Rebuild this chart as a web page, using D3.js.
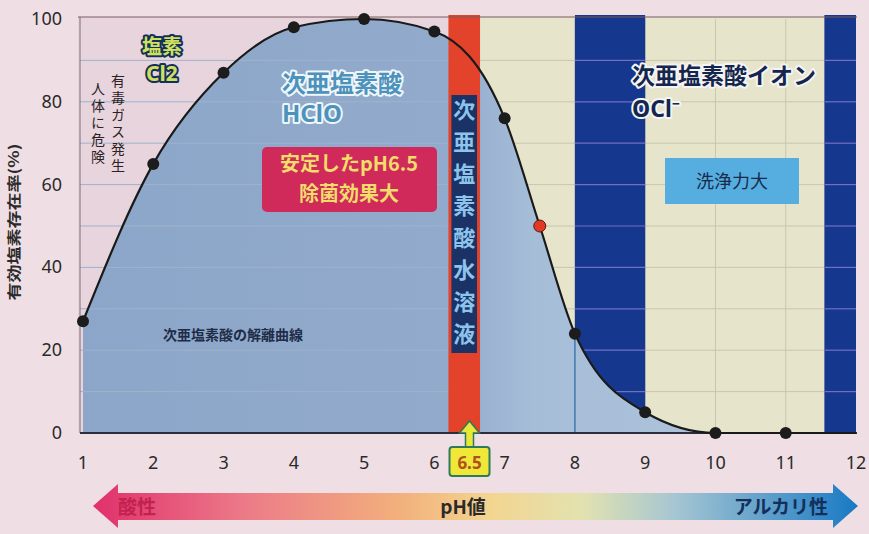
<!DOCTYPE html>
<html>
<head>
<meta charset="utf-8">
<script src="https://cdn.jsdelivr.net/npm/d3@7"></script>
<style>
  body { margin: 0; background: #efdfe5; }
  svg { display: block; font-family: "Noto Sans CJK JP", "Noto Sans", sans-serif; }
</style>
</head>
<body>
<svg id="chart" width="869" height="534"></svg>
<script>
// HClO share (%)
const phValues = [1, 2, 3, 4, 5, 6, 7, 7.5, 8, 9, 10, 11, 12];
const hcloShare = [27, 65, 87, 98, 100, 97, 76, 50, 24, 5, 0, 0, 0];
const markedPh = [1, 2, 3, 4, 5, 6, 7, 7.5, 8, 9, 10, 11];
const xTicks = [1, 2, 3, 4, 5, 6, 7, 8, 9, 10, 11, 12];
const yTicks = [0, 20, 40, 60, 80, 100];
const gridY = [10, 20, 30, 40, 50, 60, 70, 80, 90];
const redBandPh = [6.2, 6.65];
const blueBands = [[8, 9], [11.55, 12]];

const data = phValues.map((p, i) => ({ph: p, v: hcloShare[i]}));

const svg = d3.select("#chart");
const defs = svg.append("defs");

const x = d3.scaleLinear().domain([1, 12]).range([83, 856]);
const y = d3.scaleLinear().domain([0, 100]).range([433, 19]);

// background of the plot: pink (acid side) and cream (alkaline side)
svg.append("rect")
    .attr("x", 78).attr("y", y(100) - 2)
    .attr("width", x(redBandPh[0]) - 78).attr("height", y(0) - y(100) + 2)
    .attr("fill", "#e8d4dc");
svg.append("rect")
    .attr("x", x(redBandPh[1])).attr("y", y(100) - 2)
    .attr("width", x(12) - x(redBandPh[1])).attr("height", y(0) - y(100) + 2)
    .attr("fill", "#e6e5cc");

// grid in the cream part
const grid = svg.append("g").attr("stroke", "#c9c6ad").attr("stroke-width", 1);
gridY.forEach(g => {
    grid.append("line")
        .attr("x1", x(redBandPh[1])).attr("x2", x(12))
        .attr("y1", y(g)).attr("y2", y(g));
});
xTicks.filter(t => t > 7 && t < 12).forEach(t => {
    grid.append("line")
        .attr("x1", x(t)).attr("x2", x(t))
        .attr("y1", y(100)).attr("y2", y(0));
});

// dark blue bands (OCl- zone)
blueBands.forEach(b => {
    svg.append("rect")
        .attr("x", x(b[0])).attr("y", y(100) - 4)
        .attr("width", x(b[1]) - x(b[0])).attr("height", y(0) - y(100) + 4)
        .attr("fill", "#16378e");
    gridY.forEach(g => {
        svg.append("line")
            .attr("x1", x(b[0])).attr("x2", x(b[1]))
            .attr("y1", y(g)).attr("y2", y(g))
            .attr("stroke", "#6f6fc4").attr("stroke-width", 1.2);
    });
});

// area under the curve
const grad = defs.append("linearGradient").attr("id", "areaFill")
    .attr("gradientUnits", "userSpaceOnUse")
    .attr("x1", x(1)).attr("x2", x(12)).attr("y1", 0).attr("y2", 0);
grad.append("stop").attr("offset", "0%").attr("stop-color", "#8ca6c9");
grad.append("stop").attr("offset", "47%").attr("stop-color", "#92abcc");
grad.append("stop").attr("offset", "58%").attr("stop-color", "#a6bdd8");
grad.append("stop").attr("offset", "100%").attr("stop-color", "#b3c6dc");

const area = d3.area()
    .x(d => x(d.ph)).y0(y(0)).y1(d => y(d.v))
    .curve(d3.curveMonotoneX);
svg.append("path").datum(data)
    .attr("d", area)
    .attr("fill", "url(#areaFill)");

// faint grid over the blue part
gridY.forEach(g => {
    svg.append("line")
        .attr("x1", 80).attr("x2", x(redBandPh[0]))
        .attr("y1", y(g)).attr("y2", y(g))
        .attr("stroke", "#9fb2cc").attr("stroke-width", 1);
});
svg.append("line")
    .attr("x1", x(8)).attr("x2", x(8))
    .attr("y1", y(24)).attr("y2", y(0))
    .attr("stroke", "#3f78b0").attr("stroke-width", 1.5);

// red band
svg.append("rect")
    .attr("x", x(redBandPh[0])).attr("y", y(100) - 4)
    .attr("width", x(redBandPh[1]) - x(redBandPh[0])).attr("height", y(0) - y(100) + 4)
    .attr("fill", "#e2432a");

// frame
svg.append("line").attr("x1", 78).attr("x2", 857).attr("y1", y(100) - 2).attr("y2", y(100) - 2)
    .attr("stroke", "#7a5a60").attr("stroke-width", 1);
svg.append("line").attr("x1", 80).attr("x2", 80).attr("y1", y(100) - 2).attr("y2", y(0))
    .attr("stroke", "#7a6a78").attr("stroke-width", 1);
svg.append("line").attr("x1", 80).attr("x2", 857).attr("y1", y(0)).attr("y2", y(0))
    .attr("stroke", "#2c2c3c").attr("stroke-width", 2);

// curve and markers
const line = d3.line().x(d => x(d.ph)).y(d => y(d.v)).curve(d3.curveMonotoneX);
svg.append("path").datum(data)
    .attr("d", line)
    .attr("fill", "none").attr("stroke", "#1a1a1a").attr("stroke-width", 2.2);

svg.append("g").selectAll("circle")
    .data(data.filter(d => markedPh.includes(d.ph)))
    .join("circle")
    .attr("cx", d => x(d.ph)).attr("cy", d => y(d.v))
    .attr("r", 6)
    .attr("fill", d => d.ph === 7.5 ? "#e03a25" : "#1c1c1c")
    .attr("stroke", d => d.ph === 7.5 ? "#5a1a10" : "none");

// axes labels
svg.append("g").selectAll("text")
    .data(yTicks).join("text")
    .attr("x", 62).attr("y", d => y(d) + 6)
    .attr("text-anchor", "end")
    .attr("font-size", 18).attr("fill", "#2a2a2a")
    .attr("font-family", "Noto Sans")
    .text(d => d);

svg.append("g").selectAll("text")
    .data(xTicks).join("text")
    .attr("x", d => x(d)).attr("y", 469)
    .attr("text-anchor", "middle")
    .attr("font-size", 18).attr("fill", "#2a2a2a")
    .attr("font-family", "Noto Sans")
    .text(d => d);

svg.append("text")
    .attr("transform", "translate(19,222) rotate(-90)")
    .attr("text-anchor", "middle")
    .attr("font-size", 14).attr("font-weight", "bold").attr("fill", "#2a2a2a")
    .attr("textLength", 157).attr("lengthAdjust", "spacingAndGlyphs")
    .text("有効塩素存在率(%)");

// 6.5 marker
const mk = svg.append("g").attr("transform", `translate(${x(6.5)},0)`);
mk.append("path")
    .attr("d", "M0,421 L10,433 L4,433 L4,447 L-4,447 L-4,433 L-10,433 Z")
    .attr("fill", "#e8e83a").attr("stroke", "#2e7a5a").attr("stroke-width", 1.5);
mk.append("rect")
    .attr("x", -20).attr("y", 447).attr("width", 40).attr("height", 29).attr("rx", 3)
    .attr("fill", "#f0e838").attr("stroke", "#2e7a5a").attr("stroke-width", 2);
mk.append("text")
    .attr("y", 469).attr("text-anchor", "middle")
    .attr("font-size", 17).attr("font-weight", "bold").attr("fill", "#b0521c")
    .attr("font-family", "Noto Sans")
    .text("6.5");

// annotations
function halo(sel, stroke, width) {
    return sel.attr("stroke", stroke).attr("stroke-width", width)
        .attr("stroke-linejoin", "round").attr("paint-order", "stroke");
}

halo(svg.append("text").attr("x", 162).attr("y", 54).attr("text-anchor", "middle")
    .attr("font-size", 20).attr("font-weight", "bold").attr("fill", "#cfe060")
    .text("塩素"), "#14305a", 4);
halo(svg.append("text").attr("x", 162).attr("y", 81).attr("text-anchor", "middle")
    .attr("font-size", 21).attr("font-weight", "bold").attr("fill", "#cfe060")
    .attr("font-family", "Noto Sans")
    .text("Cl2"), "#14305a", 4);

// vertical warning text, one column per phrase
const warnCols = [["有毒ガス発生", 118, 74], ["人体に危険", 98, 82]];
warnCols.forEach(([t, cx, top]) => {
    svg.append("text")
        .attr("x", cx).attr("y", top)
        .style("writing-mode", "vertical-rl")
        .attr("font-size", 14).attr("letter-spacing", 3)
        .attr("fill", "#2a2226")
        .text(t);
});

halo(svg.append("text").attr("x", 282).attr("y", 92)
    .attr("font-size", 24).attr("font-weight", "bold").attr("fill", "#4d92bb")
    .text("次亜塩素酸"), "#eef6fa", 4);
halo(svg.append("text").attr("x", 282).attr("y", 122)
    .attr("font-size", 24).attr("font-weight", "bold").attr("fill", "#4d92bb")
    .attr("font-family", "Noto Sans")
    .text("HClO"), "#eef6fa", 4);

svg.append("rect")
    .attr("x", 262).attr("y", 147).attr("width", 175).attr("height", 65).attr("rx", 5)
    .attr("fill", "#cf2a5a");
svg.append("text").attr("x", 349).attr("y", 171).attr("text-anchor", "middle")
    .attr("font-size", 20).attr("font-weight", "bold").attr("fill", "#f2dc6a")
    .text("安定したpH6.5");
svg.append("text").attr("x", 349).attr("y", 201).attr("text-anchor", "middle")
    .attr("font-size", 20).attr("font-weight", "bold").attr("fill", "#f2dc6a")
    .text("除菌効果大");

svg.append("text").attr("x", 163).attr("y", 340)
    .attr("font-size", 14).attr("font-weight", "bold").attr("fill", "#1e2c48")
    .text("次亜塩素酸の解離曲線");

// vertical label in red band
svg.append("rect")
    .attr("x", x(redBandPh[0]) + 3).attr("y", 95)
    .attr("width", x(redBandPh[1]) - x(redBandPh[0]) - 6).attr("height", 258)
    .attr("fill", "#1b3266");
svg.append("text")
    .attr("x", (x(redBandPh[0]) + x(redBandPh[1])) / 2).attr("y", 99)
    .style("writing-mode", "vertical-rl")
    .attr("font-size", 22).attr("font-weight", "bold").attr("letter-spacing", 10)
    .attr("fill", "#8cc4ec")
    .text("次亜塩素酸水溶液");

halo(svg.append("text").attr("x", 632).attr("y", 84)
    .attr("font-size", 23).attr("font-weight", "bold").attr("fill", "#14264c")
    .text("次亜塩素酸イオン"), "#f4f4f4", 4);
halo(svg.append("text").attr("x", 632).attr("y", 117)
    .attr("font-size", 23).attr("font-weight", "bold").attr("fill", "#14264c")
    .attr("font-family", "Noto Sans")
    .text("OCl⁻"), "#f4f4f4", 4);

svg.append("rect")
    .attr("x", 665).attr("y", 158).attr("width", 134).attr("height", 46)
    .attr("fill", "#55ade0");
svg.append("text").attr("x", 732).attr("y", 188).attr("text-anchor", "middle")
    .attr("font-size", 18).attr("fill", "#1a2a48")
    .text("洗浄力大");

// pH arrow at the bottom
const arrowGrad = defs.append("linearGradient").attr("id", "phArrow")
    .attr("x1", "0%").attr("x2", "100%");
[["0%", "#e0306c"], ["20%", "#ec7b88"], ["40%", "#f2b07c"], ["52%", "#f3d590"],
 ["64%", "#e2e2b0"], ["76%", "#a6c6d2"], ["100%", "#1879c4"]].forEach(([o, c]) => {
    arrowGrad.append("stop").attr("offset", o).attr("stop-color", c);
});
svg.append("path")
    .attr("d", "M93,506 L118,484 L118,493 L833,493 L833,484 L858,506 L833,528 L833,520 L118,520 L118,528 Z")
    .attr("fill", "url(#phArrow)");
svg.append("text").attr("x", 118).attr("y", 514)
    .attr("font-size", 19).attr("font-weight", "bold").attr("fill", "#c4224e")
    .text("酸性");
svg.append("text").attr("x", 463).attr("y", 514).attr("text-anchor", "middle")
    .attr("font-size", 19).attr("font-weight", "bold").attr("fill", "#2a2a2a")
    .text("pH値");
svg.append("text").attr("x", 828).attr("y", 514).attr("text-anchor", "end")
    .attr("font-size", 19).attr("font-weight", "bold").attr("fill", "#14305a")
    .text("アルカリ性");
</script>
</body>
</html>
